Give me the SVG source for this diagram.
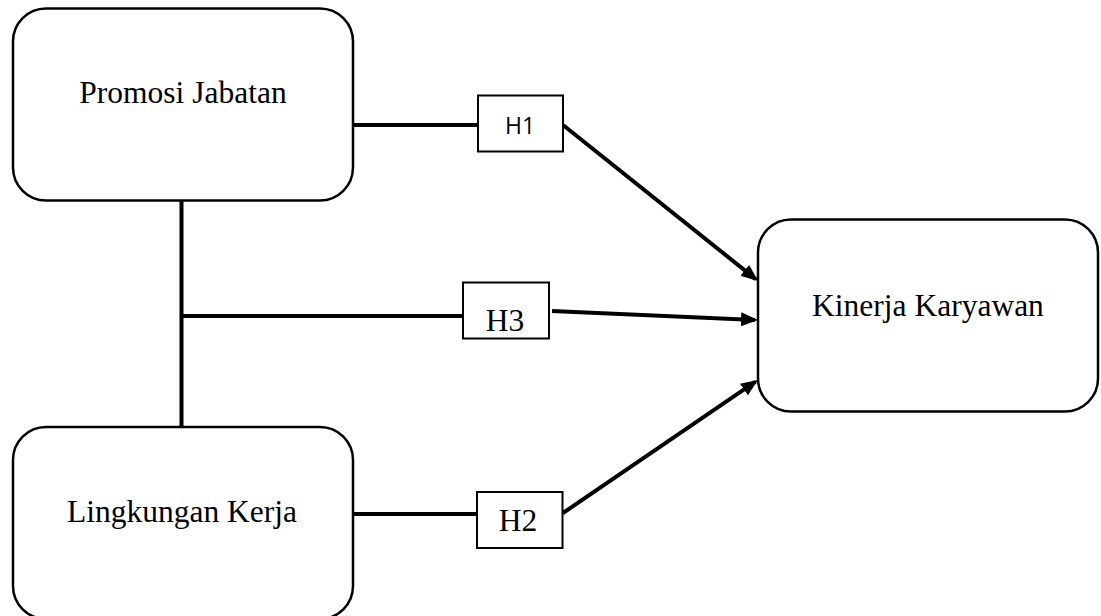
<svg xmlns="http://www.w3.org/2000/svg" width="1101" height="616" viewBox="0 0 1101 616">
<style>
.node{fill:#fff;stroke:#000;stroke-width:2.5}
.hbox{fill:#fff;stroke:#000;stroke-width:2}
.lbl{font-family:"Liberation Serif","Times New Roman",serif;font-size:31.5px;fill:#000;text-anchor:middle}
.hs{font-family:"Open Sans","Liberation Sans",sans-serif;font-size:23px;fill:#000;text-anchor:middle}
.con{stroke:#000;stroke-width:4;fill:none}
.arr{stroke:#000;stroke-width:4;fill:none;marker-end:url(#ah)}
</style>
<defs>
<marker id="ah" markerUnits="userSpaceOnUse" markerWidth="18" markerHeight="14" refX="14" refY="7" orient="auto">
<path d="M0,0 L17,7 L0,14 z" fill="#000"/>
</marker>
</defs>
<rect width="1101" height="616" fill="#fff"/>
<g id="connectors">
<line class="con" x1="181.5" y1="200" x2="181.5" y2="428"/>
<line class="con" x1="181.5" y1="316" x2="463" y2="316"/>
<line class="con" x1="353" y1="125" x2="478" y2="125"/>
<line class="con" x1="353" y1="514" x2="477" y2="514"/>
<line class="arr" x1="563" y1="125" x2="755.7" y2="279.1"/>
<line class="arr" x1="552" y1="311" x2="755" y2="319.9"/>
<line class="arr" x1="563" y1="513" x2="755.5" y2="381.7"/>
</g>
<g id="promosi">
<rect class="node" x="13" y="8.5" width="340" height="192" rx="33"/>
<text class="lbl" x="183" y="103">Promosi Jabatan</text>
</g>
<g id="lingkungan">
<rect class="node" x="13" y="427" width="340" height="192" rx="33"/>
<text class="lbl" x="182" y="522">Lingkungan Kerja</text>
</g>
<g id="kinerja">
<rect class="node" x="758" y="219.5" width="340" height="192" rx="33"/>
<text class="lbl" x="928" y="316">Kinerja Karyawan</text>
</g>
<g id="h1">
<rect class="hbox" x="478" y="95.5" width="85" height="56"/>
<text class="hs" x="520" y="134">H1</text>
</g>
<g id="h3">
<rect class="hbox" x="463" y="282.5" width="86" height="56"/>
<text class="lbl" x="505" y="331">H3</text>
</g>
<g id="h2">
<rect class="hbox" x="477" y="492" width="85.5" height="56"/>
<text class="lbl" x="518" y="531">H2</text>
</g>
</svg>
